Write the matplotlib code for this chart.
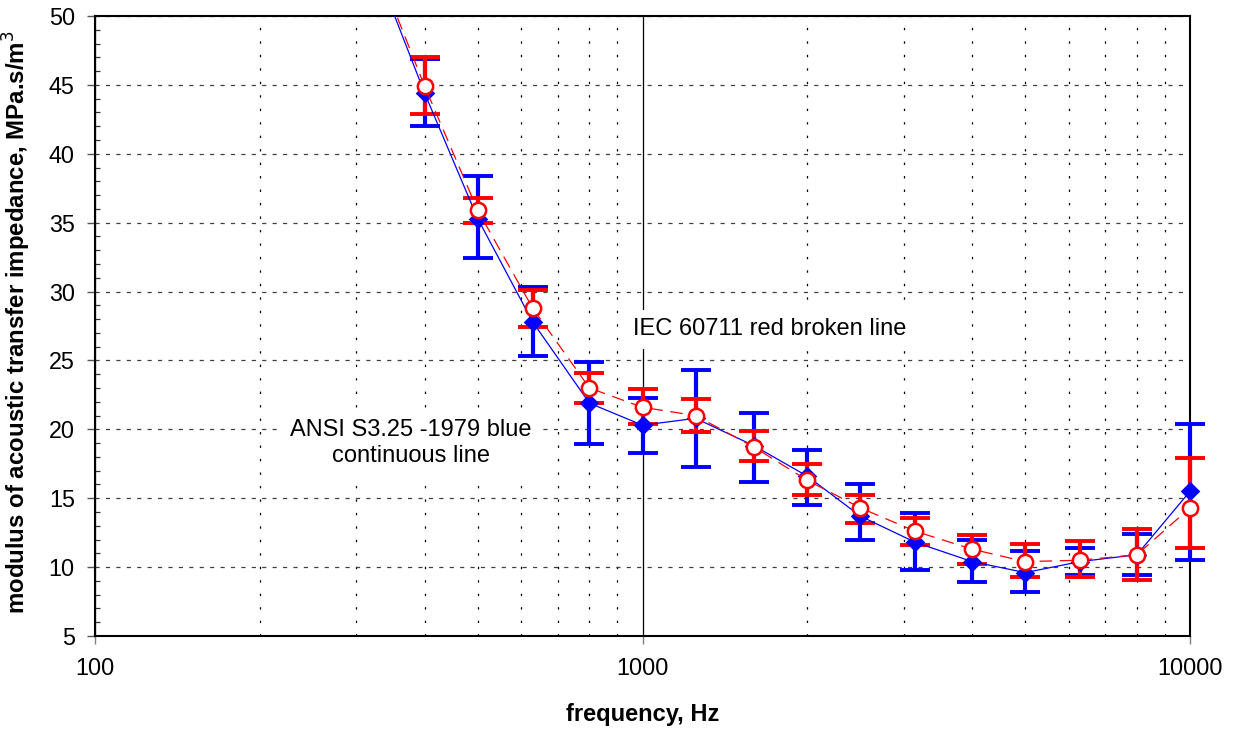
import numpy as np
import matplotlib
matplotlib.use("Agg")
from matplotlib import pyplot as plt
from matplotlib.ticker import FixedLocator, MultipleLocator, NullFormatter

# one-third octave band centre frequencies, Hz
freq = [315, 400, 500, 630, 800, 1000, 1250, 1600, 2000, 2500, 3150,
        4000, 5000, 6300, 8000, 10000]

# ANSI S3.25-1979 (blue, continuous)
ansi = [55.0, 44.4, 35.3, 27.8, 21.9, 20.3, 20.8, 18.8, 16.6, 13.7, 11.8,
        10.4, 9.6, 10.4, 10.9, 15.5]
ansi_hi = [57.5, 46.9, 38.4, 30.3, 24.9, 22.3, 24.3, 21.2, 18.5, 16.0, 13.9,
           12.0, 11.2, 11.4, 12.4, 20.4]
ansi_lo = [52.5, 42.0, 32.4, 25.3, 18.9, 18.3, 17.3, 16.2, 14.5, 12.0, 9.8,
           8.9, 8.2, 9.4, 9.4, 10.5]

# IEC 60711 (red, broken)
iec = [55.3, 44.9, 35.9, 28.8, 23.0, 21.6, 21.0, 18.7, 16.3, 14.3, 12.6,
       11.3, 10.4, 10.5, 10.9, 14.3]
iec_hi = [57.0, 47.0, 36.8, 30.1, 24.1, 22.9, 22.2, 19.9, 17.5, 15.2, 13.6,
          12.3, 11.7, 11.9, 12.8, 17.9]
iec_lo = [53.5, 42.9, 35.0, 27.4, 21.9, 20.4, 19.8, 17.7, 15.2, 13.2, 11.6,
          10.2, 9.3, 9.3, 9.1, 11.4]

x_ticks = [100, 1000, 10000]
x_tick_labels = ["100", "1000", "10000"]
x_minor = [200, 300, 400, 500, 600, 700, 800, 900,
           2000, 3000, 4000, 5000, 6000, 7000, 8000, 9000]
y_ticks = list(range(5, 55, 5))

plt.rcParams["font.family"] = ["Liberation Sans", "DejaVu Sans"]
plt.rcParams["lines.scale_dashes"] = False


def marker_size(marker):
    if marker == "D":
        return 8
    return 11


def draw_series(ax, y, lo, hi, color, marker, face, ls, dashes, z):
    x = np.array(freq, dtype=float)
    y = np.array(y)
    lo = np.array(lo)
    hi = np.array(hi)

    line, = ax.plot(x, y, color=color, lw=0.9, ls=ls, zorder=z + 2)
    if dashes is not None:
        line.set_dashes(dashes)

    keep = y <= 50
    err = [y[keep] - lo[keep], hi[keep] - y[keep]]
    eb = ax.errorbar(x[keep], y[keep], yerr=err, fmt="none", ecolor=color,
                     elinewidth=3.0, capsize=11, capthick=2.8, zorder=z)
    for art in eb.get_children():
        art.set_clip_on(False)

    ax.plot(x[keep], y[keep], ls="none", marker=marker, ms=marker_size(marker),
            mfc=face, mec=color, mew=1.8, clip_on=False, zorder=z + 3)


def main():
    fig = plt.figure(figsize=(12.37, 7.29), dpi=100)
    ax = fig.add_axes([95 / 1237, 1 - 636 / 729, 1095 / 1237, 620 / 729])

    ax.set_xscale("log")
    ax.set_xlim(100, 10000)
    ax.set_ylim(5, 50)

    draw_series(ax, ansi, ansi_lo, ansi_hi, "#0000ff", "D", "#0000ff",
                "-", None, 3)
    draw_series(ax, iec, iec_lo, iec_hi, "#ff0000", "o", "white",
                "--", (9, 5.5), 4)

    # axes and ticks
    ax.xaxis.set_major_locator(FixedLocator(x_ticks))
    ax.xaxis.set_minor_locator(FixedLocator(x_minor))
    ax.xaxis.set_minor_formatter(NullFormatter())
    ax.set_xticklabels(x_tick_labels)
    ax.yaxis.set_major_locator(FixedLocator(y_ticks))
    ax.yaxis.set_minor_locator(MultipleLocator(1))

    ax.tick_params(axis="x", which="major", direction="out", length=5.8,
                   width=1, color="#808080", labelsize=16.8, pad=9)
    ax.tick_params(axis="x", which="minor", length=0)
    ax.tick_params(axis="y", which="major", direction="out", length=5.5,
                   width=1, color="#555555", labelsize=16.8, pad=9)
    ax.tick_params(axis="y", which="minor", direction="in", length=3.6,
                   width=0.9, color="#333333")

    for s in ax.spines.values():
        s.set_linewidth(1.5)
        s.set_color("black")

    # grid
    ax.yaxis.grid(True, which="major", color="#404040", lw=0.9,
                  ls=(0, (3, 4.5)))
    ax.xaxis.grid(True, which="minor", color="black", lw=0.9,
                  ls=(0, (1.7, 8)))
    ax.xaxis.grid(True, which="major", color="black", lw=0.9, ls="-")

    ax.set_xlabel("frequency, Hz", fontsize=17, fontweight="bold")
    ax.set_ylabel(r"modulus of acoustic transfer impedance, MPa.s/m$^3$",
                  fontsize=17.3, fontweight="bold")
    ax.xaxis.set_label_coords(0.5, -0.108)
    ax.yaxis.set_label_coords(-0.0566, 0.506)

    box = dict(facecolor="white", edgecolor="none", pad=6)
    ax.text(378, 19.0, "ANSI S3.25 -1979 blue\ncontinuous line",
            fontsize=17, ha="center", va="center", linespacing=1.25,
            bbox=box, zorder=2.5)
    ax.text(961, 27.25, "IEC 60711 red broken line", fontsize=17,
            ha="left", va="center", bbox=box, zorder=2.5)

    fig.savefig("out.png", dpi=100)
    plt.close(fig)


if __name__ == "__main__":
    main()
